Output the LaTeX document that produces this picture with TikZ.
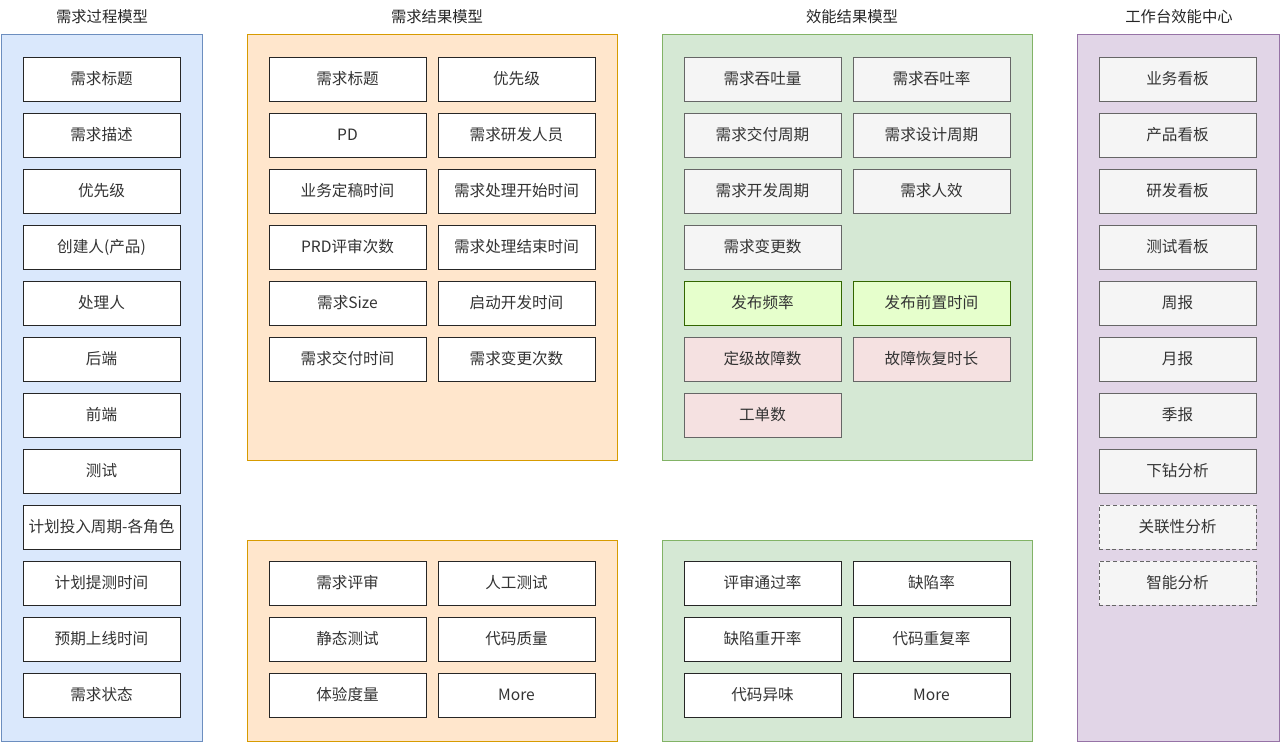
\documentclass[tikz,border=0pt]{standalone}
\usepackage{fontspec}
\setmainfont{Noto Sans CJK SC}
\definecolor{bluef}{HTML}{DAE8FC}\definecolor{blued}{HTML}{6C8EBF}
\definecolor{orangef}{HTML}{FFE6CC}\definecolor{oranged}{HTML}{D79B00}
\definecolor{greenf}{HTML}{D5E8D4}\definecolor{greend}{HTML}{82B366}
\definecolor{purplef}{HTML}{E1D5E7}\definecolor{purpled}{HTML}{9673A6}
\definecolor{grayf}{HTML}{F5F5F5}\definecolor{grayd}{HTML}{666666}\definecolor{grayt}{HTML}{333333}
\definecolor{limef}{HTML}{E6FFCC}\definecolor{limed}{HTML}{336600}
\definecolor{redf}{HTML}{F5E1E1}
\tikzset{
  panel/.style={line width=0.75pt},
  ttl/.style={font=\fontsize{11.5pt}{13pt}\selectfont, text=black!85},
  box/.style={draw=black!85, fill=white, line width=0.75pt, minimum width=157*0.75pt, minimum height=44*0.75pt, inner sep=0pt, font=\fontsize{11.7pt}{13pt}\selectfont, text=grayt},
  gbox/.style={box, draw=grayd, fill=grayf, text=grayt},
  lbox/.style={box, draw=limed, fill=limef},
  rbox/.style={box, draw=grayd, fill=redf},
  dbox/.style={gbox, dashed, dash pattern=on 3pt off 2pt},
}
\begin{document}
\begin{tikzpicture}[x=0.75pt,y=-0.75pt]
\useasboundingbox (0,0) rectangle (1280,743);
% panels
\draw[panel, draw=blued, fill=bluef] (1,34) rectangle (202,741);
\draw[panel, draw=oranged, fill=orangef] (247,34) rectangle (617,460);
\draw[panel, draw=oranged, fill=orangef] (247,540) rectangle (617,741);
\draw[panel, draw=greend, fill=greenf] (662,34) rectangle (1032,460);
\draw[panel, draw=greend, fill=greenf] (662,540) rectangle (1032,741);
\draw[panel, draw=purpled, fill=purplef] (1077,34) rectangle (1279,741);
% titles
\node[ttl] (t1) at (102,17) {需求过程模型};
\node[ttl] (t2) at (437,17) {需求结果模型};
\node[ttl] (t3) at (852,17) {效能结果模型};
\node[ttl] (t4) at (1179,17) {工作台效能中心};
% column 1
\foreach \txt [count=\i from 0] in {需求标题,需求描述,优先级,创建人(产品),处理人,后端,前端,测试,计划投入周期-各角色,计划提测时间,预期上线时间,需求状态}
  \node[box] (a\i) at (101.5,{79+56*\i}) {\txt};
% column 2 top
\foreach \l/\r [count=\i from 0] in {需求标题/优先级,PD/需求研发人员,业务定稿时间/需求处理开始时间,PRD评审次数/需求处理结束时间,需求Size/启动开发时间,需求交付时间/需求变更次数}{
  \node[box] (bl\i) at (347.5,{79+56*\i}) {\l};
  \node[box] (br\i) at (516.5,{79+56*\i}) {\r};
}
% column 2 bottom
\foreach \l/\r [count=\i from 0] in {需求评审/人工测试,静态测试/代码质量,体验度量/More}{
  \node[box] (cl\i) at (347.5,{583+56*\i}) {\l};
  \node[box] (cr\i) at (516.5,{583+56*\i}) {\r};
}
% column 3 top
\node[gbox] (d1) at (762.5,79) {需求吞吐量};
\node[gbox] (d2) at (931.5,79) {需求吞吐率};
\node[gbox] (d3) at (762.5,135) {需求交付周期};
\node[gbox] (d4) at (931.5,135) {需求设计周期};
\node[gbox] (d5) at (762.5,191) {需求开发周期};
\node[gbox] (d6) at (931.5,191) {需求人效};
\node[gbox] (d7) at (762.5,247) {需求变更数};
\node[lbox] (d8) at (762.5,303) {发布频率};
\node[lbox] (d9) at (931.5,303) {发布前置时间};
\node[rbox] (d10) at (762.5,359) {定级故障数};
\node[rbox] (d11) at (931.5,359) {故障恢复时长};
\node[rbox] (d12) at (762.5,415) {工单数};
% column 3 bottom
\foreach \l/\r [count=\i from 0] in {评审通过率/缺陷率,缺陷重开率/代码重复率,代码异味/More}{
  \node[box] (el\i) at (762.5,{583+56*\i}) {\l};
  \node[box] (er\i) at (931.5,{583+56*\i}) {\r};
}
% column 4
\foreach \txt [count=\i from 0] in {业务看板,产品看板,研发看板,测试看板,周报,月报,季报,下钻分析}
  \node[gbox] (f\i) at (1177.5,{79+56*\i}) {\txt};
\node[dbox] (f8) at (1177.5,527) {关联性分析};
\node[dbox] (f9) at (1177.5,583) {智能分析};
\end{tikzpicture}
\end{document}
